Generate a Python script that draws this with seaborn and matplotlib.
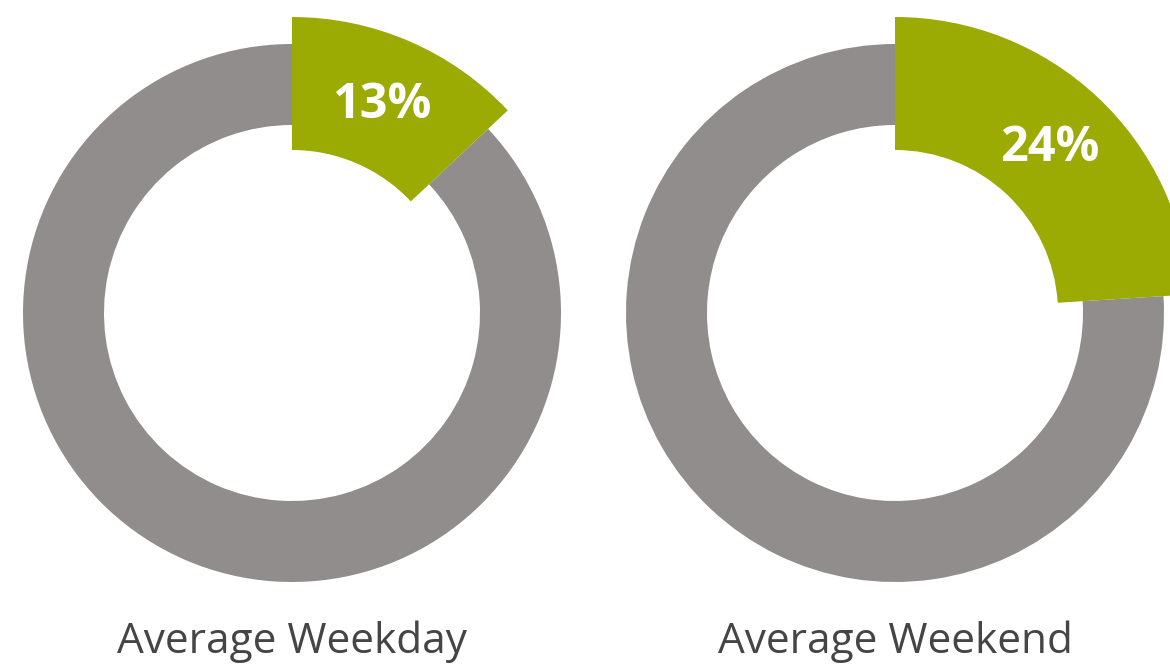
import matplotlib
matplotlib.use("Agg")
import matplotlib.pyplot as plt
import seaborn as sns

# data
labels = ["Average Weekday", "Average Weekend"]
shares = [13, 24]

green = "#9caa04"
grey = "#918d8c"
text_grey = "#454545"

sns.set_theme(style="white")
plt.rcParams["font.family"] = ["Open Sans", "DejaVu Sans"]

fig = plt.figure(figsize=(11.7, 6.72), dpi=100)
ax = fig.add_axes([0, 0, 1, 1])

# pixel layout (y measured upward from the bottom edge)
centers = [(292, 359), (895, 359)]
ring_r, ring_w = 269, 81
wedge_r, wedge_w = 296, 133

for (cx, cy), share, name in zip(centers, shares, labels):
    vals = [share, 100 - share]
    # grey ring
    ax.pie(vals, colors=["none", grey], radius=ring_r, center=(cx, cy),
           startangle=90, counterclock=False,
           wedgeprops=dict(width=ring_w, linewidth=0))
    # highlighted share, drawn wider
    wedges, texts, autotexts = ax.pie(
        vals, colors=[green, "none"], radius=wedge_r, center=(cx, cy),
        startangle=90, counterclock=False,
        autopct=lambda p: f"{p:.0f}%", pctdistance=226 / wedge_r,
        wedgeprops=dict(width=wedge_w, linewidth=0),
        textprops=dict(color="white", fontsize=35, fontweight="bold"))
    autotexts[1].set_visible(False)
    ax.text(cx, 19, name, ha="center", va="baseline", fontsize=30.5, color=text_grey)

ax.set_xlim(0, 1170)
ax.set_ylim(0, 672)
ax.set_aspect("equal")
ax.axis("off")

fig.savefig("out.png", dpi=100)
